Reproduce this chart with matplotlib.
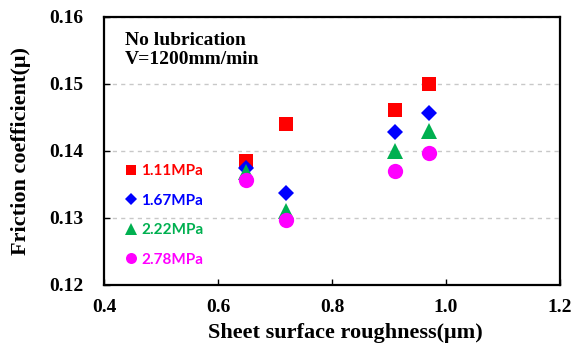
import matplotlib
matplotlib.use("Agg")
import matplotlib.pyplot as plt

# sheet roughness (um) and friction coefficient per contact pressure
roughness = [0.65, 0.72, 0.91, 0.97]
mu_111 = [0.1385, 0.1440, 0.1461, 0.1500]
mu_167 = [0.1374, 0.1337, 0.1428, 0.1456]
mu_222 = [0.1368, 0.1310, 0.1399, 0.1429]
mu_278 = [0.1357, 0.1297, 0.1370, 0.1396]
labels = ["1.11MPa", "1.67MPa", "2.22MPa", "2.78MPa"]

x_ticks = [0.4, 0.6, 0.8, 1.0, 1.2]
y_ticks = [0.12, 0.13, 0.14, 0.15, 0.16]

serif = "Liberation Serif"

fig = plt.figure(figsize=(5.79, 3.51), dpi=100)
ax = fig.add_axes([0.1796, 0.189, 0.7875, 0.763])

series = [
    (mu_111, "s", "#FF0000", 10.5),
    (mu_167, "D", "#0000FF", 7.8),
    (mu_222, "^", "#00B050", 11.5),
    (mu_278, "o", "#FF00FF", 11.0),
]
for (vals, mk, col, ms), lab in zip(series, labels):
    ax.plot(roughness, vals, linestyle="none", marker=mk, color=col,
            markersize=ms, markeredgewidth=0, label=lab, zorder=3)

ax.set_xlim(0.4, 1.2)
ax.set_ylim(0.12, 0.16)
ax.set_xticks(x_ticks)
ax.set_yticks(y_ticks)
ax.set_xticklabels([f"{v:.1f}" for v in x_ticks])
ax.set_yticklabels([f"{v:.2f}" for v in y_ticks])
ax.tick_params(axis="x", direction="in", length=4, width=1, pad=10,
               labelsize=14)
ax.tick_params(axis="y", direction="in", length=4, width=1, pad=15,
               labelsize=14)
for lbl in ax.get_xticklabels() + ax.get_yticklabels():
    lbl.set_fontfamily(serif)
    lbl.set_fontweight("bold")

for sp in ax.spines.values():
    sp.set_linewidth(1.6)

ax.yaxis.grid(True, linestyle=(0, (3, 3)), color="#c8c8c8", linewidth=1)
ax.set_axisbelow(True)

ax.set_xlabel("Sheet surface roughness(\u03bcm)", fontsize=16,
              fontfamily=serif, fontweight="bold")
ax.set_ylabel("Friction coefficient(\u03bc)", fontsize=16,
              fontfamily=serif, fontweight="bold")
ax.xaxis.set_label_coords(0.53, -0.145)
ax.yaxis.set_label_coords(-0.16, 0.5)

ax.text(0.046, 0.945, "No lubrication\nV=1200mm/min", transform=ax.transAxes,
        ha="left", va="top", fontsize=14, fontfamily=serif,
        fontweight="bold", linespacing=1.15)

leg = ax.legend(loc="center left", bbox_to_anchor=(0.046, 0.259),
                frameon=False, borderpad=0, borderaxespad=0,
                handlelength=0.8, handletextpad=0.25, labelspacing=1.02,
                markerscale=0.72, labelcolor="markerfacecolor",
                prop={"family": "Lato", "weight": "bold", "size": 11})

fig.savefig("out.png", dpi=100)
